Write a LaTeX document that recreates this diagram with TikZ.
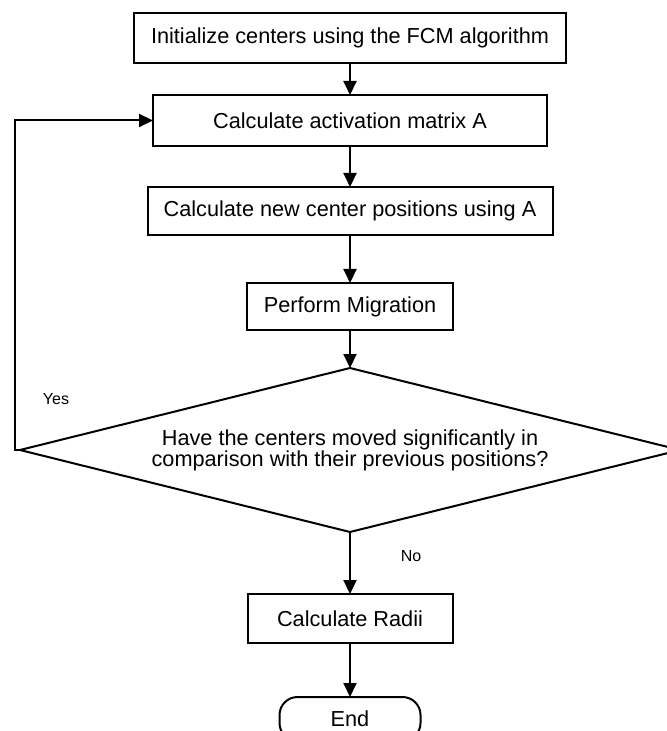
\documentclass[tikz,border=0pt]{standalone}
\usepackage{fontspec}
\setmainfont{Liberation Sans}
\usetikzlibrary{positioning,shapes.geometric,arrows.meta}
\newcommand\tightlines{\lineskiplimit=-20pt\relax}

\begin{document}
\begin{tikzpicture}[%
  >={Triangle[length=7pt,width=6.5pt]},
  line width=1pt,
  every node/.style={outer sep=0pt},
  block/.style={rectangle, draw, inner sep=0pt, font=\fontsize{10.85}{13}\selectfont},
  decision/.style={diamond, draw, inner sep=0pt, shape aspect=4, align=center, font=\fontsize{10.85}{10.4}\selectfont\tightlines},
  terminal/.style={rectangle, draw, rounded corners=9pt, inner sep=0pt, font=\fontsize{10.85}{13}\selectfont},
  tag/.style={font=\fontsize{8}{9}\selectfont},
  ]
  \useasboundingbox (0,0) rectangle (333pt,-365.5pt);
  \node[block, minimum width=216pt, minimum height=25pt] (init) at (175pt,-19pt) {Initialize centers using the FCM algorithm};
  \node[block, minimum width=197pt, minimum height=25.5pt, below=16pt of init] (act) {Calculate activation matrix A};
  \node[block, minimum width=202.5pt, minimum height=24pt, below=20.5pt of act] (newc) {Calculate new center positions using A};
  \node[block, minimum width=103pt, minimum height=23.5pt, below=24pt of newc] (migr) {Perform Migration};
  \node[decision, minimum width=330pt, minimum height=82pt, below=19pt of migr] (dec) {Have the centers moved significantly in\\comparison with their previous positions?};
  \node[block, minimum width=102.5pt, minimum height=24.5pt, below=31pt of dec] (radii) {Calculate Radii};
  \node[terminal, minimum width=70.5pt, minimum height=22pt, below=27pt of radii] (end) {End};
  \coordinate (loop) at (7.5pt,0);
  \node[tag] (yes) at (28pt,-199.5pt) {Yes};
  \node[tag] (no) at (205.5pt,-278pt) {No};
  \draw[->] (init) -- (act);
  \draw[->] (act) -- (newc);
  \draw[->] (newc) -- (migr);
  \draw[->] (migr) -- (dec);
  \draw[->] (dec) -- (radii);
  \draw[->] (radii) -- (end);
  \draw[->] (dec.west) -- (dec.west -| loop) |- (act.west);
\end{tikzpicture}
\end{document}
